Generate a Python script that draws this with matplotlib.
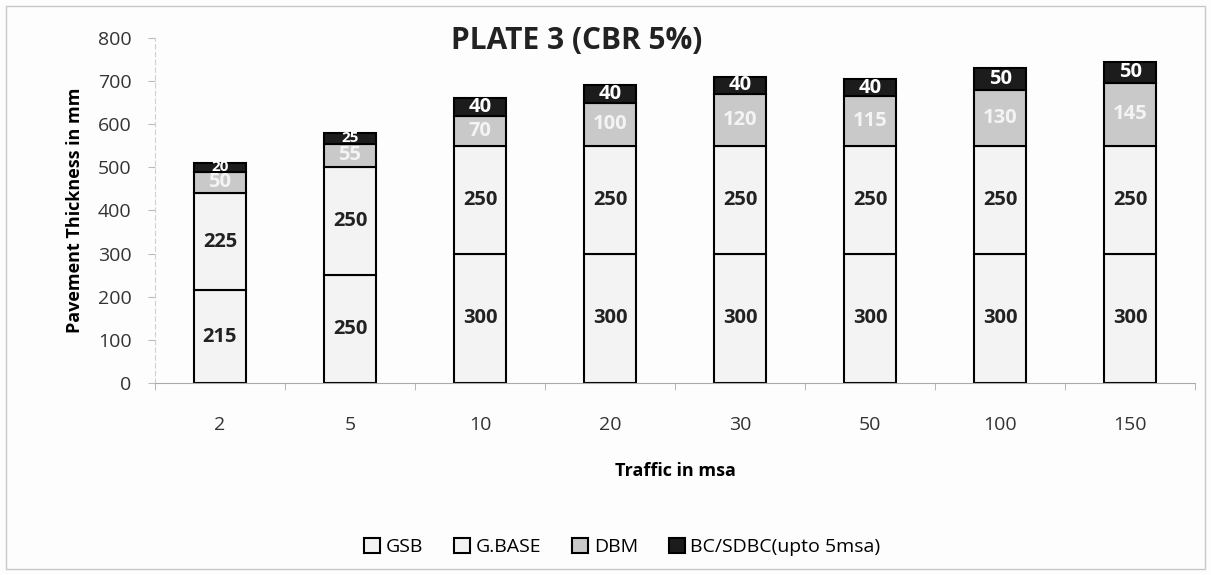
import numpy as np
import matplotlib.pyplot as plt
from matplotlib.patches import Rectangle

plt.rcParams['font.family'] = ['Open Sans', 'DejaVu Sans']

traffic = ['2', '5', '10', '20', '30', '50', '100', '150']
gsb = [215, 250, 300, 300, 300, 300, 300, 300]
gbase = [225, 250, 250, 250, 250, 250, 250, 250]
dbm = [50, 55, 70, 100, 120, 115, 130, 145]
bc = [20, 25, 40, 40, 40, 40, 50, 50]

layers = [
    ('GSB', gsb, '#f3f3f3', '#222222'),
    ('G.BASE', gbase, '#f3f3f3', '#222222'),
    ('DBM', dbm, '#c9c9c9', '#f4f4f4'),
    ('BC/SDBC(upto 5msa)', bc, '#1c1c1c', 'white'),
]

fig = plt.figure(figsize=(12.11, 5.75), dpi=100)
fig.patch.set_facecolor('#fdfdfd')
fig.patches.append(Rectangle((0.005, 0.01), 0.99, 0.98, transform=fig.transFigure,
                             fill=False, edgecolor='#c8c8c8', lw=1))
ax = fig.add_axes([0.128, 0.334, 0.859, 0.6])
ax.set_facecolor('#fdfdfd')

x = np.arange(len(traffic))
bottom = np.zeros(len(traffic))
for name, vals, fc, tc in layers:
    vals = np.array(vals)
    ax.bar(x, vals, 0.4, bottom=bottom, color=fc, edgecolor='black', lw=1.5, label=name)
    for xi, b, v in zip(x, bottom, vals):
        fs = 14.5 if v >= 40 else 11
        ax.text(xi, b + v / 2, str(v), ha='center', va='center', color=tc,
                fontsize=fs, fontweight='bold')
    bottom += vals

ax.set_xlim(-0.5, len(traffic) - 0.5)
ax.set_ylim(0, 800)
ax.set_yticks(range(0, 801, 100))
ax.set_xticks(x)
ax.set_xticklabels(traffic)
ax.set_xticks(np.arange(-0.5, len(traffic)), minor=True)
ax.tick_params(axis='x', which='major', length=0, pad=24, labelsize=14, colors='#333333')
ax.tick_params(axis='x', which='minor', length=5, color='#aaaaaa')
ax.tick_params(axis='y', length=5, color='#bbbbbb', labelsize=14, labelcolor='#333333', pad=12)
for s in ['top', 'right']:
    ax.spines[s].set_visible(False)
ax.spines['left'].set_color('#d0d0d0')
ax.spines['left'].set_linestyle((0, (4, 3)))
ax.spines['bottom'].set_color('#aaaaaa')

ax.set_ylabel('Pavement Thickness in mm', fontsize=13, fontweight='bold', labelpad=10)
ax.set_xlabel('Traffic in msa', fontsize=13, fontweight='bold', labelpad=20)
fig.text(0.476, 0.928, 'PLATE 3 (CBR 5%)', ha='center', va='center', fontsize=21.5,
         fontweight='bold', color='#222222')

handles, labels = ax.get_legend_handles_labels()
fig.legend(handles, labels, loc='center', bbox_to_anchor=(0.514, 0.049), ncol=4,
           frameon=False, fontsize=14, handlelength=0.8, handleheight=0.8,
           handletextpad=0.3, columnspacing=1.6)

fig.savefig('out.png', dpi=100, facecolor=fig.get_facecolor())
